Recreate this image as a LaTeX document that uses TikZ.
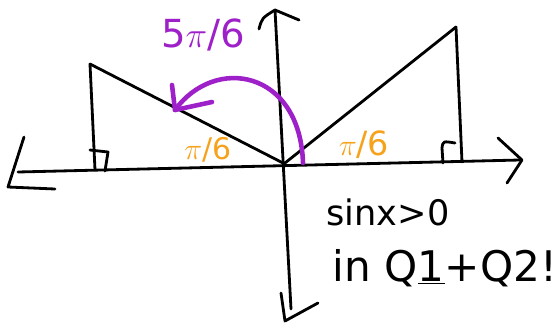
\documentclass[tikz,border=0pt]{standalone}
\usepackage{fontspec}
\setsansfont{DejaVu Sans}
\definecolor{arcpurple}{RGB}{158,32,200}
\definecolor{angorange}{RGB}{246,162,28}
\begin{document}
\begin{tikzpicture}[x=0.02cm, y=-0.02cm, line cap=round, line join=round]
  \useasboundingbox (0,0) rectangle (555,325);
  % axes
  \draw[line width=1.6pt] (18,172) -- (520,160);
  \draw[line width=1.6pt] (24,137) -- (8,187) -- (55,189);
  \draw[line width=1.6pt] (498,138) -- (522,160) -- (507,183);
  \draw[line width=1.6pt] (275,10) -- (291,309);
  \draw[line width=1.6pt] (259,29) .. controls (262,18) .. (275,10) -- (299,20);
  \draw[line width=1.6pt] (281,293) -- (285,321) -- (318,303);
  % triangles
  \draw[line width=1.6pt] (90,64) -- (95,170);
  \draw[line width=1.6pt] (90,64) -- (283,163);
  \draw[line width=1.6pt] (456,27) -- (462,162);
  \draw[line width=1.6pt] (285,163) -- (456,27);
  \draw[line width=1.6pt] (90,150) -- (108,152) -- (105,171);
  \draw[line width=1.6pt] (443,163) -- (442,148) .. controls (443,141) .. (455,143);
  % arc 5pi/6
  \draw[arcpurple, line width=2.6pt] (303,163) .. controls (300,70) and (215,55) .. (175,110);
  \draw[arcpurple, line width=2.6pt] (172,85) -- (175,110) -- (212,102);
  % labels
  \node[arcpurple, font=\sffamily\fontsize{22}{26}\selectfont] (big) at (203,35) {5$\pi$/6};
  \node[angorange, font=\sffamily\fontsize{17}{20}\selectfont] (left) at (208,150) {$\pi$/6};
  \node[angorange, font=\sffamily\fontsize{19}{22}\selectfont] (right) at (364,145) {$\pi$/6};
  \node[font=\sffamily\fontsize{20}{24}\selectfont] (sinx) at (388,212) {sinx>0};
  \node[font=\sffamily\fontsize{24}{28}\selectfont] (quad) at (445,268) {in Q\underline{1}+Q2!};
\end{tikzpicture}
\end{document}
